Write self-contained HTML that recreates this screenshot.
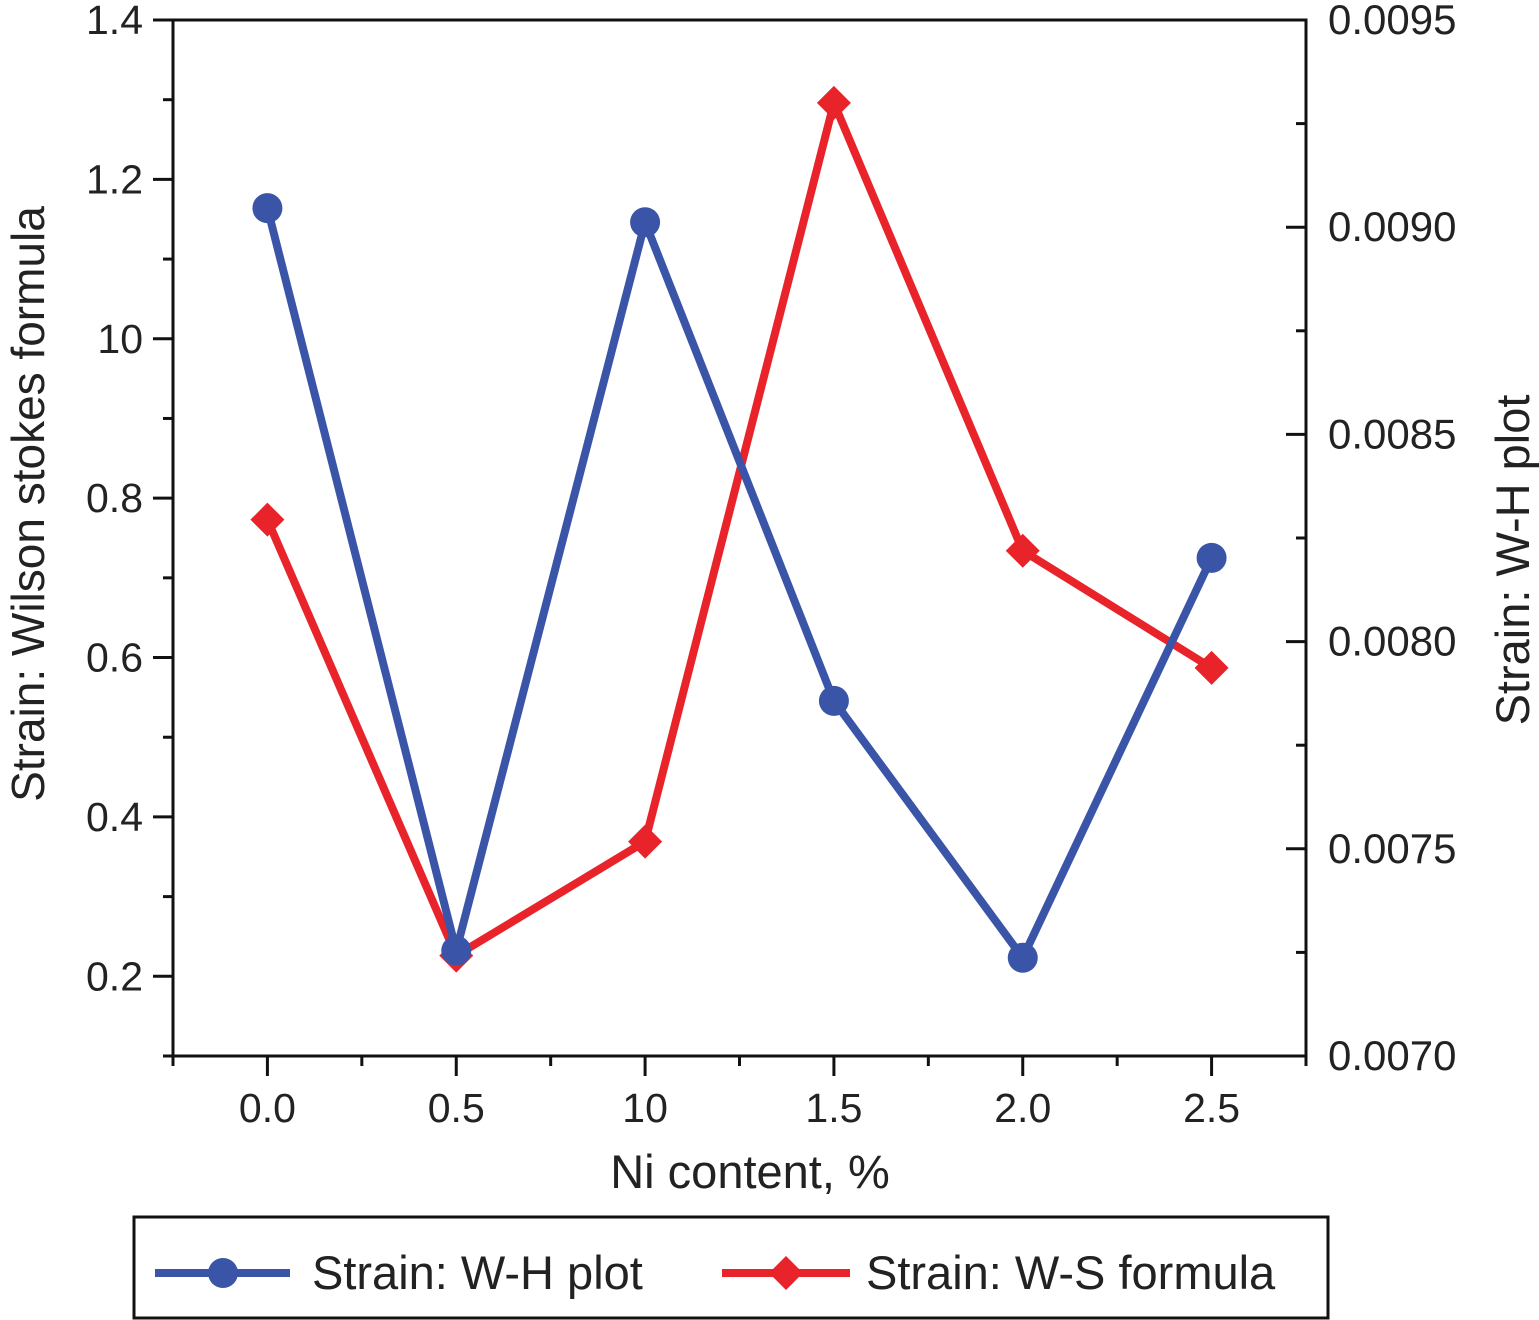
<!DOCTYPE html>
<html><head><meta charset="utf-8"><style>
html,body{margin:0;padding:0;background:#fff;}
svg{display:block;font-family:"Liberation Sans",sans-serif;}
</style></head><body>
<svg id="chart" width="1539" height="1320" viewBox="0 0 1539 1320"></svg>
<script>
const categories = ["0.0","0.5","10","1.5","2.0","2.5"];
const xValues = [0, 0.5, 1.0, 1.5, 2.0, 2.5];
const whValues = [0.009046, 0.007254, 0.009012, 0.007857, 0.007237, 0.008202];
const wsValues = [0.773, 0.226, 0.369, 1.296, 0.734, 0.587];
const leftTicks = ["0.2","0.4","0.6","0.8","10","1.2","1.4"];
const leftTickVals = [0.2,0.4,0.6,0.8,1.0,1.2,1.4];
const rightTicks = ["0.0070","0.0075","0.0080","0.0085","0.0090","0.0095"];
const rightTickVals = [0.0070,0.0075,0.0080,0.0085,0.0090,0.0095];

const L=173,R=1306,T=20,B=1056;
const xs=v=>L+(v+0.25)/3*(R-L);
const yl=v=>B-(v-0.1)/1.3*(B-T);
const yr=v=>B-(v-0.0070)/0.0025*(B-T);
const svg=document.getElementById('chart');
const NS='http://www.w3.org/2000/svg';
function el(tag,attrs,parent){const e=document.createElementNS(NS,tag);for(const k in attrs)e.setAttribute(k,attrs[k]);(parent||svg).appendChild(e);return e;}
function txt(s,attrs){const e=el('text',attrs);e.textContent=s;return e;}

let a=el('path',{d:`M${L},${T}H${R}V${B}H${L}Z`,fill:'none',stroke:'#111','stroke-width':3});



for(let i=0;i<=13;i++){const v=0.1+i*0.1;const y=yl(v);
 const t=el('line',{x1:L,x2:L-(i%2===1?20:10),y1:y,y2:y,stroke:'#111','stroke-width':3});
 
 }
leftTickVals.forEach((v,i)=>{const t=txt(leftTicks[i],{x:143,y:yl(v)+14,'text-anchor':'end','font-size':41,fill:'#222'});
 
 });
for(let i=0;i<=10;i++){const v=0.0070+i*0.00025;const y=yr(v);
 const t=el('line',{x1:R,x2:R-(i%2===0?20:10),y1:y,y2:y,stroke:'#111','stroke-width':3});
 
 }
rightTickVals.forEach((v,i)=>{const t=txt(rightTicks[i],{x:1328,y:yr(v)+14,'font-size':42,fill:'#222'});
 
 });
for(let i=0;i<=12;i++){const v=-0.25+i*0.25;const x=xs(v);
 const t=el('line',{x1:x,x2:x,y1:B,y2:B+(i%2===1?20:10),stroke:'#111','stroke-width':3});
 
 }
xValues.forEach((v,i)=>{const t=txt(categories[i],{x:xs(v),y:1122,'text-anchor':'middle','font-size':41,fill:'#222'});
 
 });

let t1=txt('Ni content, %',{x:750,y:1188,'text-anchor':'middle','font-size':47,fill:'#222'});


let t2=txt('Strain: Wilson stokes formula',{x:0,y:0,'text-anchor':'middle','font-size':46,fill:'#222',transform:'translate(44,504) rotate(-90)'});


let t3=txt('Strain: W-H plot',{x:0,y:0,'text-anchor':'middle','font-size':47,fill:'#222',transform:'translate(1529,560) rotate(-90)'});



const blue='#3a55a8', red='#e8242a';
let rp=el('polyline',{points:xValues.map((v,i)=>xs(v)+','+yl(wsValues[i])).join(' '),fill:'none',stroke:red,'stroke-width':8,'stroke-linejoin':'round'});


xValues.forEach((v,i)=>{const x=xs(v),y=yl(wsValues[i]);
 const m=el('path',{d:`M${x},${y-17}L${x+17},${y}L${x},${y+17}L${x-17},${y}Z`,fill:red});
 
 });
let bp=el('polyline',{points:xValues.map((v,i)=>xs(v)+','+yr(whValues[i])).join(' '),fill:'none',stroke:blue,'stroke-width':8,'stroke-linejoin':'round'});


xValues.forEach((v,i)=>{const m=el('circle',{cx:xs(v),cy:yr(whValues[i]),r:15,fill:blue});
 
 });

const g=el('g',{});


el('rect',{x:134,y:1217,width:1194,height:101,fill:'none',stroke:'#111','stroke-width':3},g);
const e1=el('g',{},g);


el('line',{x1:155,x2:290,y1:1273,y2:1273,stroke:blue,'stroke-width':8},e1);
el('circle',{cx:223,cy:1273,r:15,fill:blue},e1);
const l1=el('text',{x:312,y:1289,'font-size':47,fill:'#222'},e1);l1.textContent='Strain: W-H plot';
const e2=el('g',{},g);


el('line',{x1:722,x2:850,y1:1273,y2:1273,stroke:red,'stroke-width':8},e2);
el('path',{d:'M786,1256L803,1273L786,1290L769,1273Z',fill:red},e2);
const l2=el('text',{x:866,y:1289,'font-size':47,fill:'#222'},e2);l2.textContent='Strain: W-S formula';
</script>
</body></html>
